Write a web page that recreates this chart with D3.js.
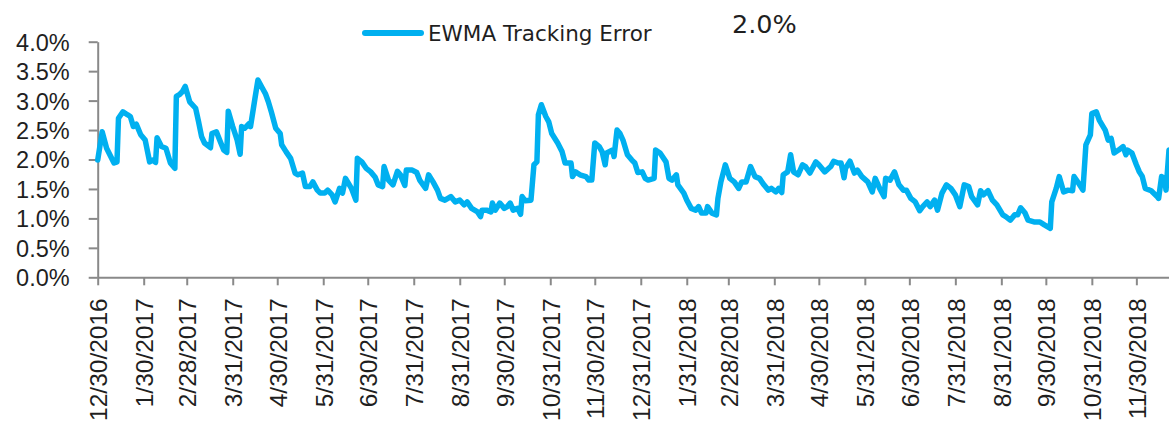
<!DOCTYPE html>
<html>
<head>
<meta charset="utf-8">
<script src="https://cdn.jsdelivr.net/npm/d3@7"></script>
<style>
    body { margin: 0; background: #fff; }
    svg { display: block; }
</style>
</head>
<body>
<svg id="chart"></svg>
<script>
// EWMA tracking error, % (days counted from 12/30/2016)
const startDate = "12/30/2016";
const axisEndDate = "12/22/2018";

const dayOffsets = [
    0, 3, 6, 11, 13, 14, 17, 20, 22, 24,
    26, 29, 32, 35, 37, 39, 40, 43, 46, 49,
    52, 53, 55, 57, 59, 62, 66, 68, 70, 72,
    76, 77, 80, 83, 85, 87, 88, 91, 94, 96,
    97, 99, 102, 103, 106, 108, 111, 113, 115, 117,
    120, 123, 124, 127, 130, 133, 135, 138, 140, 143,
    145, 148, 150, 153, 155, 158, 160, 163, 165, 167,
    171, 174, 175, 178, 181, 184, 187, 189, 192, 193,
    196, 199, 202, 204, 207, 208, 212, 215, 217, 221,
    223, 226, 229, 231, 234, 238, 241, 244, 247, 249,
    252, 256, 258, 259, 262, 265, 266, 268, 271, 274,
    276, 278, 280, 283, 285, 286, 288, 292, 294, 296,
    297, 299, 302, 304, 306, 310, 313, 315, 319, 320,
    322, 325, 329, 331, 333, 335, 338, 340, 342, 343,
    347, 348, 350, 352, 354, 357, 360, 362, 364, 367,
    369, 371, 375, 376, 379, 383, 385, 387, 390, 391,
    395, 397, 400, 403, 405, 407, 410, 411, 414, 417,
    418, 420, 423, 426, 429, 432, 434, 437, 440, 443,
    446, 449, 452, 454, 457, 459, 461, 462, 465, 467,
    469, 472, 475, 477, 480, 484, 486, 490, 494, 496,
    499, 501, 503, 504, 507, 510, 512, 515, 519, 522,
    524, 527, 530, 531, 534, 537, 540, 543, 545, 548,
    551, 554, 556, 559, 561, 564, 566, 569, 572, 575,
    578, 581, 584, 587, 589, 593, 595, 597, 600, 603,
    606, 610, 612, 615, 618, 620, 622, 625, 627, 631,
    635, 638, 642, 643, 646, 648, 651, 654, 657, 658,
    661, 664, 666, 669, 670, 673, 675, 679, 681, 683,
    685, 688, 691, 693, 694, 697, 700, 702, 704, 706,
    710, 714, 715, 717, 719, 720, 722
];

const teValues = [
    1.99, 2.47, 2.19, 1.94, 1.96, 2.70, 2.81, 2.76, 2.73, 2.56,
    2.60, 2.42, 2.33, 1.96, 1.99, 1.95, 2.37, 2.22, 2.19, 1.94,
    1.85, 3.07, 3.10, 3.15, 3.24, 2.98, 2.87, 2.64, 2.39, 2.28,
    2.20, 2.44, 2.47, 2.28, 2.16, 2.12, 2.82, 2.56, 2.33, 2.09,
    2.56, 2.53, 2.61, 2.56, 3.04, 3.35, 3.21, 3.12, 2.98, 2.81,
    2.53, 2.44, 2.25, 2.13, 2.02, 1.77, 1.74, 1.77, 1.54, 1.54,
    1.62, 1.48, 1.43, 1.43, 1.48, 1.40, 1.28, 1.51, 1.43, 1.68,
    1.51, 1.31, 2.02, 1.96, 1.85, 1.79, 1.70, 1.57, 1.54, 1.88,
    1.65, 1.57, 1.80, 1.74, 1.56, 1.82, 1.82, 1.78, 1.65, 1.51,
    1.74, 1.62, 1.48, 1.34, 1.31, 1.37, 1.28, 1.31, 1.23, 1.28,
    1.17, 1.11, 1.03, 1.14, 1.14, 1.11, 1.26, 1.14, 1.26, 1.17,
    1.20, 1.26, 1.14, 1.17, 1.07, 1.37, 1.30, 1.31, 1.91, 1.96,
    2.76, 2.93, 2.73, 2.64, 2.44, 2.28, 2.13, 1.94, 1.94, 1.71,
    1.79, 1.74, 1.71, 1.65, 1.65, 2.28, 2.22, 2.13, 1.91, 2.11,
    2.16, 2.05, 2.50, 2.44, 2.33, 2.08, 1.99, 1.94, 1.78, 1.79,
    1.68, 1.65, 1.68, 2.16, 2.11, 1.96, 1.68, 1.65, 1.74, 1.57,
    1.43, 1.31, 1.17, 1.14, 1.20, 1.09, 1.09, 1.20, 1.09, 1.06,
    1.34, 1.62, 1.91, 1.68, 1.62, 1.51, 1.62, 1.62, 1.88, 1.71,
    1.68, 1.57, 1.48, 1.51, 1.45, 1.51, 1.44, 1.74, 1.79, 2.08,
    1.79, 1.74, 1.91, 1.88, 1.77, 1.96, 1.91, 1.79, 1.88, 1.97,
    1.94, 1.94, 1.69, 1.85, 1.97, 1.77, 1.82, 1.71, 1.62, 1.45,
    1.68, 1.51, 1.37, 1.68, 1.65, 1.79, 1.57, 1.48, 1.48, 1.34,
    1.28, 1.13, 1.20, 1.28, 1.20, 1.31, 1.14, 1.43, 1.57, 1.51,
    1.40, 1.20, 1.57, 1.54, 1.37, 1.23, 1.47, 1.40, 1.47, 1.31,
    1.23, 1.06, 1.03, 0.97, 1.06, 1.06, 1.18, 1.09, 0.97, 0.94,
    0.94, 0.89, 0.83, 1.28, 1.51, 1.71, 1.45, 1.48, 1.47, 1.71,
    1.60, 1.48, 2.25, 2.42, 2.78, 2.81, 2.67, 2.50, 2.33, 2.36,
    2.11, 2.16, 2.22, 2.08, 2.16, 2.11, 1.91, 1.79, 1.71, 1.51,
    1.47, 1.37, 1.34, 1.71, 1.68, 1.48, 2.16
];

const xTickLabels = [
    "12/30/2016", "1/30/2017", "2/28/2017", "3/31/2017", "4/30/2017", "5/31/2017",
    "6/30/2017", "7/31/2017", "8/31/2017", "9/30/2017", "10/31/2017", "11/30/2017",
    "12/31/2017", "1/31/2018", "2/28/2018", "3/31/2018", "4/30/2018", "5/31/2018",
    "6/30/2018", "7/31/2018", "8/31/2018", "9/30/2018", "10/31/2018", "11/30/2018"
];

const yTickValues = [0, 0.5, 1.0, 1.5, 2.0, 2.5, 3.0, 3.5, 4.0];

const legendLabel = "EWMA Tracking Error";
const cornerLabel = "2.0%";

const width = 1169,
    height = 425;
const lineColour = "#00b0f0",
    axisColour = "#898989",
    textColour = "#1f1f1f",
    font = "'DejaVu Sans', sans-serif";

const parseDate = d3.timeParse("%m/%d/%Y");
const start = parseDate(startDate);

const data = dayOffsets.map((d, i) => ({
    date: d3.timeDay.offset(start, d),
    value: teValues[i]
}));

const svg = d3.select("#chart")
    .attr("width", width)
    .attr("height", height)
    .style("font-family", font);

svg.append("rect")
    .attr("width", width)
    .attr("height", height)
    .attr("fill", "#fff");

const x = d3.scaleTime()
    .domain([start, parseDate(axisEndDate)])
    .range([97.7, 1169]);

const y = d3.scaleLinear()
    .domain([0, 4])
    .range([277.3, 41.7]);

// y axis
const yAxis = svg.append("g")
    .attr("transform", "translate(" + x.range()[0] + ",0)")
    .call(d3.axisLeft(y)
        .tickValues(yTickValues)
        .tickFormat(d => d.toFixed(1) + "%")
        .tickSize(9)
        .tickSizeOuter(0)
        .tickPadding(19));

yAxis.selectAll("text")
    .attr("font-size", 23.5)
    .attr("fill", textColour)
    .attr("dy", "0.36em");

// x axis
const xTicks = xTickLabels.map(parseDate);

const xAxis = svg.append("g")
    .attr("transform", "translate(0," + y(0) + ")")
    .call(d3.axisBottom(x)
        .tickValues(xTicks)
        .tickFormat((d, i) => xTickLabels[i])
        .tickSize(8)
        .tickSizeOuter(0));

xAxis.selectAll("text")
    .attr("font-size", 24.5)
    .attr("fill", textColour)
    .attr("transform", "rotate(-90)")
    .attr("text-anchor", "end")
    .attr("x", -21)
    .attr("y", 0)
    .attr("dy", "0.36em");

svg.selectAll(".domain, .tick line")
    .attr("stroke", axisColour)
    .attr("stroke-width", 2);

// series
const line = d3.line()
    .x(d => x(d.date))
    .y(d => y(d.value));

svg.append("path")
    .datum(data)
    .attr("fill", "none")
    .attr("stroke", lineColour)
    .attr("stroke-width", 5.5)
    .attr("stroke-linejoin", "round")
    .attr("stroke-linecap", "round")
    .attr("d", line);

// legend
const legend = svg.append("g");

legend.append("line")
    .attr("x1", 365)
    .attr("x2", 421)
    .attr("y1", 33)
    .attr("y2", 33)
    .attr("stroke", lineColour)
    .attr("stroke-width", 6)
    .attr("stroke-linecap", "round");

legend.append("text")
    .attr("x", 428)
    .attr("y", 40.5)
    .attr("font-size", 21.5)
    .attr("fill", textColour)
    .text(legendLabel);

svg.append("text")
    .attr("x", 732)
    .attr("y", 33)
    .attr("font-size", 25.5)
    .attr("fill", textColour)
    .text(cornerLabel);
</script>
</body>
</html>
